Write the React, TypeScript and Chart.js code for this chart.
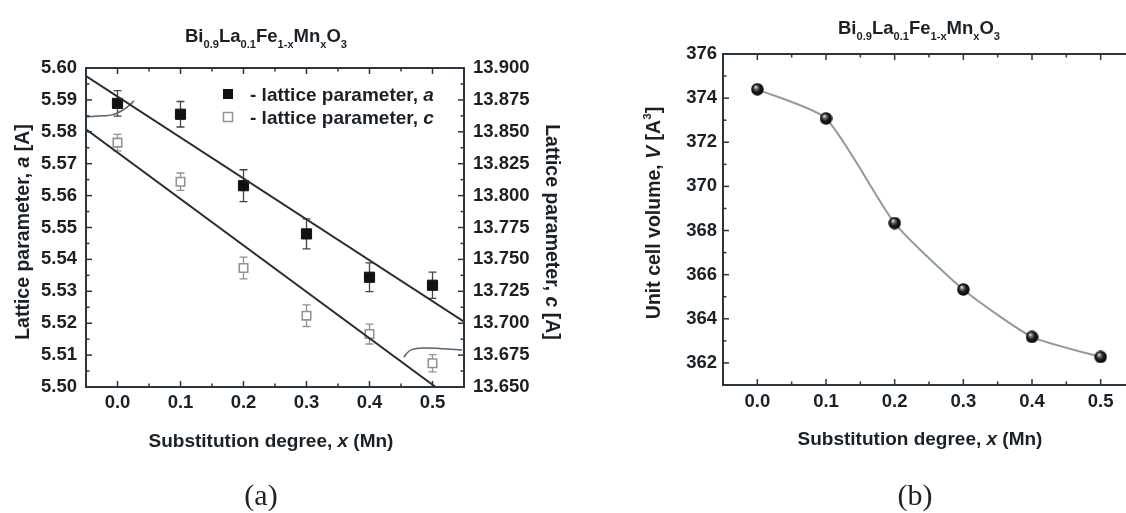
import React, { useEffect, useRef } from 'react';
import { Chart, registerables } from 'chart.js';

Chart.register(...registerables);

const FAMILY = '"Liberation Sans", Arial, Helvetica, sans-serif';
const TEXT = '#1a2126';
const FRAME = '#2a363f';

// ---------- panel (a) data ----------
const substitution = [0, 0.1, 0.2, 0.3, 0.4, 0.5];
const latticeA = [5.5889, 5.5855, 5.5631, 5.548, 5.5344, 5.5319];
const latticeAErr = [0.004, 0.004, 0.005, 0.0047, 0.0045, 0.0041];
const latticeC = [13.8415, 13.8109, 13.7433, 13.7059, 13.6915, 13.6686];
const latticeCErr = [0.0065, 0.0068, 0.0085, 0.0085, 0.0078, 0.0068];
const fitAX = [-0.05, 0.55];
const fitAY = [5.5975, 5.5205];
const fitCX = [-0.05, 0.505];
const fitCY = [13.852, 13.65];
const pointerAX = [-0.05, -0.0226, -0.0093, 0.0038, 0.0143, 0.0222, 0.026];
const pointerAY = [5.5847, 5.585, 5.5853, 5.5863, 5.5876, 5.5889, 5.5897];
const pointerCX = [0.4547, 0.46, 0.4679, 0.4837, 0.5153, 0.547];
const pointerCY = [13.6733, 13.6769, 13.6795, 13.6806, 13.68, 13.679];

const xTicks = [0, 0.1, 0.2, 0.3, 0.4, 0.5];
const xMinorTicks = [0.05, 0.15, 0.25, 0.35, 0.45];
const aTicks = [5.5, 5.51, 5.52, 5.53, 5.54, 5.55, 5.56, 5.57, 5.58, 5.59, 5.6];
const aMinorTicks = [5.505, 5.515, 5.525, 5.535, 5.545, 5.555, 5.565, 5.575, 5.585, 5.595];
const cTicks = [13.65, 13.675, 13.7, 13.725, 13.75, 13.775, 13.8, 13.825, 13.85, 13.875, 13.9];
const cMinorTicks = [13.6625, 13.6875, 13.7125, 13.7375, 13.7625, 13.7875, 13.8125, 13.8375, 13.8625, 13.8875];

// ---------- panel (b) data ----------
const cellVolume = [374.4, 373.08, 368.34, 365.33, 363.18, 362.27];
const vTicks = [362, 364, 366, 368, 370, 372, 374, 376];
const vMinorTicks = [361, 363, 365, 367, 369, 371, 373, 375];

type Seg = { t: string; i?: boolean; sub?: boolean; sup?: boolean };

function drawRich(
  ctx: CanvasRenderingContext2D,
  segs: Seg[],
  x: number,
  y: number,
  size: number,
  opts: { align?: 'center' | 'left'; rotate?: number; color?: string; weight?: string; family?: string } = {}
) {
  const align = opts.align || 'center';
  const weight = opts.weight ?? 'bold';
  const family = opts.family || FAMILY;
  const fontFor = (s: Seg) => {
    const sz = s.sub || s.sup ? size * 0.6 : size;
    return `${s.i ? 'italic ' : ''}${weight} ${sz}px ${family}`;
  };
  ctx.save();
  ctx.translate(x, y);
  if (opts.rotate) ctx.rotate(opts.rotate);
  const widths = segs.map((s) => {
    ctx.font = fontFor(s);
    return ctx.measureText(s.t).width;
  });
  const total = widths.reduce((a, b) => a + b, 0);
  let cx = align === 'center' ? -total / 2 : 0;
  ctx.fillStyle = opts.color || TEXT;
  ctx.textAlign = 'left';
  ctx.textBaseline = 'alphabetic';
  const base = size * 0.36;
  segs.forEach((s, k) => {
    ctx.font = fontFor(s);
    const dy = s.sub ? size * 0.33 : s.sup ? -size * 0.45 : 0;
    ctx.fillText(s.t, cx, base + dy);
    cx += widths[k];
  });
  ctx.restore();
}

const formulaSegs: Seg[] = [
  { t: 'Bi' }, { t: '0.9', sub: true }, { t: 'La' }, { t: '0.1', sub: true }, { t: 'Fe' },
  { t: '1-x', sub: true }, { t: 'Mn' }, { t: 'x', sub: true }, { t: 'O' }, { t: '3', sub: true },
];
const xTitleSegs: Seg[] = [{ t: 'Substitution degree, ' }, { t: 'x', i: true }, { t: ' (Mn)' }];

function tickMarks(ctx: CanvasRenderingContext2D, chart: any, scale: any, values: number[], len: number, sides: string[]) {
  const ca = chart.chartArea;
  values.forEach((v) => {
    const p = scale.getPixelForValue(v);
    sides.forEach((side) => {
      ctx.beginPath();
      if (side === 'bottom') { ctx.moveTo(p, ca.bottom); ctx.lineTo(p, ca.bottom - len); }
      if (side === 'top') { ctx.moveTo(p, ca.top); ctx.lineTo(p, ca.top + len); }
      if (side === 'left') { ctx.moveTo(ca.left, p); ctx.lineTo(ca.left + len, p); }
      if (side === 'right') { ctx.moveTo(ca.right, p); ctx.lineTo(ca.right - len, p); }
      ctx.stroke();
    });
  });
}

function errorBars(ctx: CanvasRenderingContext2D, xs: any, ys: any, xv: number[], yv: number[], ev: number[], color: string) {
  ctx.save();
  ctx.strokeStyle = color;
  ctx.lineWidth = 1.3;
  xv.forEach((xx, i) => {
    const px = xs.getPixelForValue(xx);
    const t = ys.getPixelForValue(yv[i] + ev[i]);
    const b = ys.getPixelForValue(yv[i] - ev[i]);
    ctx.beginPath();
    ctx.moveTo(px, t); ctx.lineTo(px, b);
    ctx.moveTo(px - 4, t); ctx.lineTo(px + 4, t);
    ctx.moveTo(px - 4, b); ctx.lineTo(px + 4, b);
    ctx.stroke();
  });
  ctx.restore();
}

const tickFont = { family: FAMILY, size: 18.5, weight: 'bold' as const };
const noGrid = { display: false, drawTicks: false };

const leftDecor = {
  id: 'leftDecor',
  beforeDatasetsDraw(chart: any) {
    const { ctx, scales } = chart;
    errorBars(ctx, scales.x, scales.yA, substitution, latticeA, latticeAErr, '#40464b');
    errorBars(ctx, scales.x, scales.yC, substitution, latticeC, latticeCErr, '#8f9498');
  },
  afterDatasetsDraw(chart: any) {
    const { ctx, chartArea: ca, scales } = chart;
    ctx.save();
    ctx.strokeStyle = FRAME;
    ctx.lineWidth = 2;
    ctx.strokeRect(ca.left, ca.top, ca.width, ca.height);
    ctx.lineWidth = 1.5;
    tickMarks(ctx, chart, scales.x, xTicks, 6, ['bottom', 'top']);
    tickMarks(ctx, chart, scales.x, xMinorTicks, 3.5, ['bottom', 'top']);
    tickMarks(ctx, chart, scales.yA, aTicks, 6, ['left']);
    tickMarks(ctx, chart, scales.yA, aMinorTicks, 3.5, ['left']);
    tickMarks(ctx, chart, scales.yC, cTicks, 6, ['right']);
    tickMarks(ctx, chart, scales.yC, cMinorTicks, 3.5, ['right']);
    // legend
    ctx.fillStyle = '#111';
    ctx.fillRect(223, 89, 10, 10);
    ctx.strokeStyle = '#8f9498';
    ctx.lineWidth = 1.5;
    ctx.fillStyle = '#fff';
    ctx.fillRect(223.5, 112.5, 9, 9);
    ctx.strokeRect(223.5, 112.5, 9, 9);
    drawRich(ctx, [{ t: '- lattice parameter, ' }, { t: 'a', i: true }], 250, 94, 19, { align: 'left' });
    drawRich(ctx, [{ t: '- lattice parameter, ' }, { t: 'c', i: true }], 250, 117, 19, { align: 'left' });
    // titles
    drawRich(ctx, formulaSegs, 266, 35, 18.5);
    drawRich(ctx, [{ t: 'Lattice parameter, ' }, { t: 'a', i: true }, { t: ' [A]' }], 22, 232, 19.5, { rotate: -Math.PI / 2 });
    drawRich(ctx, [{ t: 'Lattice parameter, ' }, { t: 'c', i: true }, { t: ' [A]' }], 553, 232, 19.5, { rotate: Math.PI / 2 });
    drawRich(ctx, xTitleSegs, 271, 440, 19);
    drawRich(ctx, [{ t: '(a)' }], 261, 494, 30, { weight: 'normal', family: '"Liberation Serif", "Times New Roman", serif', color: '#222' });
    ctx.restore();
  },
};

const rightDecor = {
  id: 'rightDecor',
  afterDatasetsDraw(chart: any) {
    const { ctx, chartArea: ca, scales } = chart;
    ctx.save();
    ctx.strokeStyle = FRAME;
    ctx.lineWidth = 2;
    ctx.strokeRect(ca.left, ca.top, ca.width, ca.height);
    ctx.lineWidth = 1.5;
    tickMarks(ctx, chart, scales.x, xTicks, 6, ['bottom', 'top']);
    tickMarks(ctx, chart, scales.x, xMinorTicks, 3.5, ['bottom', 'top']);
    tickMarks(ctx, chart, scales.y, vTicks, 6, ['left', 'right']);
    tickMarks(ctx, chart, scales.y, vMinorTicks, 3.5, ['left', 'right']);
    drawRich(ctx, formulaSegs, 356, 27, 18.5);
    drawRich(
      ctx,
      [{ t: 'Unit cell volume, ' }, { t: 'V', i: true }, { t: ' [A' }, { t: '3', sup: true }, { t: ']' }],
      90, 213, 19.5, { rotate: -Math.PI / 2 }
    );
    drawRich(ctx, xTitleSegs, 357, 438, 19);
    drawRich(ctx, [{ t: '(b)' }], 352, 494, 30, { weight: 'normal', family: '"Liberation Serif", "Times New Roman", serif', color: '#222' });
    ctx.restore();
  },
};

function pts(xs: number[], ys: number[]) {
  return xs.map((x, i) => ({ x, y: ys[i] }));
}

function makeSphere(d: number) {
  const c = document.createElement('canvas');
  c.width = d;
  c.height = d;
  const g = c.getContext('2d')!;
  const r = d / 2;
  const grad = g.createRadialGradient(r * 0.72, r * 0.62, 0.3, r, r, r);
  grad.addColorStop(0, '#f2f2f2');
  grad.addColorStop(0.22, '#7a7a7a');
  grad.addColorStop(0.55, '#1c1c1c');
  grad.addColorStop(1, '#000');
  g.fillStyle = grad;
  g.beginPath();
  g.arc(r, r, r - 0.3, 0, Math.PI * 2);
  g.fill();
  return c;
}

function leftConfig(): any {
  return {
    type: 'scatter',
    data: {
      datasets: [
        { label: 'fit a', data: pts(fitAX, fitAY), yAxisID: 'yA', showLine: true, borderColor: '#262e34', borderWidth: 2, pointRadius: 0 },
        { label: 'fit c', data: pts(fitCX, fitCY), yAxisID: 'yC', showLine: true, borderColor: '#262e34', borderWidth: 2, pointRadius: 0 },
        { label: 'pointer a', data: pts(pointerAX, pointerAY), yAxisID: 'yA', showLine: true, tension: 0.4, borderColor: '#56646f', borderWidth: 1.5, pointRadius: 0 },
        { label: 'pointer c', data: pts(pointerCX, pointerCY), yAxisID: 'yC', showLine: true, tension: 0.4, borderColor: '#56646f', borderWidth: 1.5, pointRadius: 0 },
        {
          label: 'lattice parameter, a', data: pts(substitution, latticeA), yAxisID: 'yA',
          pointStyle: 'rect', pointRadius: 7.2, backgroundColor: '#111', borderColor: '#111', borderWidth: 1,
        },
        {
          label: 'lattice parameter, c', data: pts(substitution, latticeC), yAxisID: 'yC',
          pointStyle: 'rect', pointRadius: 6, backgroundColor: '#fff', borderColor: '#8f9498', borderWidth: 1.6,
        },
      ],
    },
    options: {
      animation: false,
      responsive: false,
      layout: { padding: { top: 68, left: 0, right: 0, bottom: 0 } },
      plugins: { legend: { display: false }, tooltip: { enabled: false }, title: { display: false } },
      scales: {
        x: {
          type: 'linear', position: 'bottom', min: -0.05, max: 0.55,
          afterBuildTicks: (s: any) => { s.ticks = xTicks.map((v) => ({ value: v })); },
          afterFit: (s: any) => { s.height = 126; },
          ticks: { callback: (v: any) => Number(v).toFixed(1), font: tickFont, color: TEXT, padding: 5, autoSkip: false, maxRotation: 0 },
          grid: noGrid, border: { display: false },
        },
        yA: {
          type: 'linear', position: 'left', min: 5.5, max: 5.6,
          afterBuildTicks: (s: any) => { s.ticks = aTicks.map((v) => ({ value: v })); },
          afterFit: (s: any) => { s.width = 86; },
          ticks: { callback: (v: any) => Number(v).toFixed(2), font: tickFont, color: TEXT, padding: 9, autoSkip: false },
          grid: noGrid, border: { display: false },
        },
        yC: {
          type: 'linear', position: 'right', min: 13.65, max: 13.9,
          afterBuildTicks: (s: any) => { s.ticks = cTicks.map((v) => ({ value: v })); },
          afterFit: (s: any) => { s.width = 99; },
          ticks: { callback: (v: any) => Number(v).toFixed(3), font: tickFont, color: TEXT, padding: 9, autoSkip: false },
          grid: noGrid, border: { display: false },
        },
      },
    },
    plugins: [leftDecor],
  };
}

function rightConfig(): any {
  const sphere = makeSphere(13);
  return {
    type: 'scatter',
    data: {
      datasets: [
        {
          label: 'Unit cell volume', data: pts(substitution, cellVolume), showLine: true,
          tension: 0.2, borderColor: '#8e9ba3', borderWidth: 2,
          pointStyle: sphere, pointRadius: 7,
        },
      ],
    },
    options: {
      animation: false,
      responsive: false,
      layout: { padding: { top: 54, left: 0, right: 28, bottom: 0 } },
      plugins: { legend: { display: false }, tooltip: { enabled: false }, title: { display: false } },
      scales: {
        x: {
          type: 'linear', position: 'bottom', min: -0.05, max: 0.55,
          afterBuildTicks: (s: any) => { s.ticks = xTicks.map((v) => ({ value: v })); },
          afterFit: (s: any) => { s.height = 128; },
          ticks: { callback: (v: any) => Number(v).toFixed(1), font: tickFont, color: TEXT, padding: 6, autoSkip: false, maxRotation: 0 },
          grid: noGrid, border: { display: false },
        },
        y: {
          type: 'linear', position: 'left', min: 361, max: 376,
          afterBuildTicks: (s: any) => { s.ticks = vTicks.map((v) => ({ value: v })); },
          afterFit: (s: any) => { s.width = 160; },
          ticks: { callback: (v: any) => String(v), font: tickFont, color: TEXT, padding: 6, autoSkip: false },
          grid: noGrid, border: { display: false },
        },
      },
    },
    plugins: [rightDecor],
  };
}

export default function App() {
  const leftRef = useRef<HTMLCanvasElement>(null);
  const rightRef = useRef<HTMLCanvasElement>(null);
  useEffect(() => {
    const left = new Chart(leftRef.current as HTMLCanvasElement, leftConfig());
    const right = new Chart(rightRef.current as HTMLCanvasElement, rightConfig());
    return () => {
      left.destroy();
      right.destroy();
    };
  }, []);
  return (
    <div style={{ position: 'absolute', left: 0, top: 0, width: 1126, height: 513, overflow: 'hidden', background: '#fff' }}>
      <canvas ref={leftRef} width={563} height={513} style={{ position: 'absolute', left: 0, top: 0 }} />
      <canvas ref={rightRef} width={600} height={513} style={{ position: 'absolute', left: 563, top: 0 }} />
    </div>
  );
}
